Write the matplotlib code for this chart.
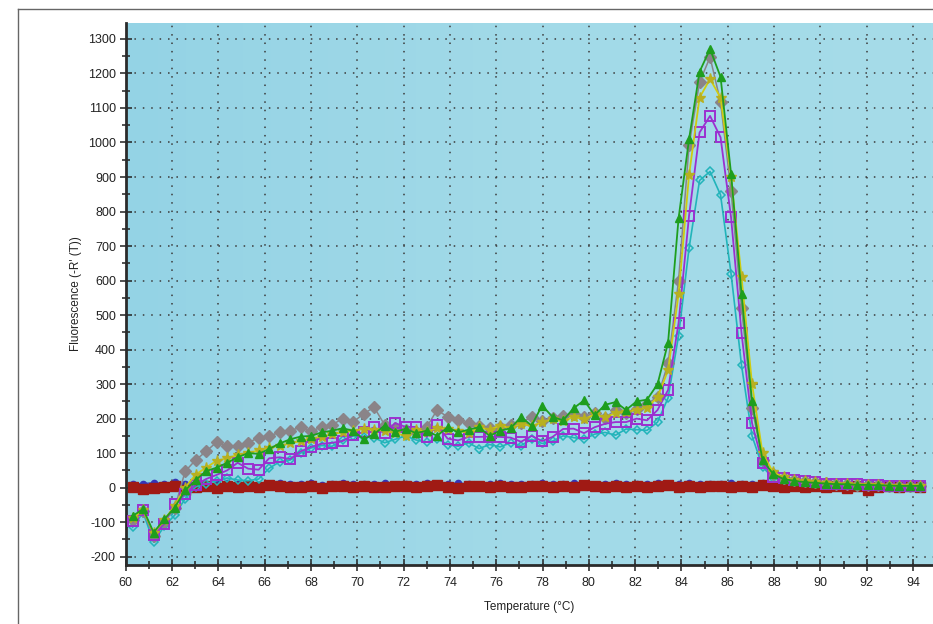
import matplotlib

matplotlib.use("Agg")
import matplotlib.pyplot as plt
import numpy as np
from matplotlib.lines import Line2D
from matplotlib.ticker import MultipleLocator

# melt curve sampling grid (deg C), one reading per step
temps = np.linspace(60.3, 94.3, 76)

# positive samples, -R'(T)
purple = [-98, -64, -136, -105, -47, -18, 8, 25, 37, 50,
          72, 55, 52, 85, 88, 83, 105, 118, 127, 130,
          135, 152, 161, 175, 157, 187, 176, 176, 147, 181,
          142, 137, 147, 147, 148, 147, 145, 133, 150, 135,
          147, 170, 171, 158, 175, 185, 190, 190, 200, 195,
          225, 283, 477, 788, 1029, 1077, 1015, 783, 447, 187,
          70, 32, 27, 22, 18, 15, 12, 12, 10, 10,
          8, 8, 6, 6, 5, 5]
cyan = [-115, -72, -158, -112, -80, -32, 2, 12, 20, 28,
        22, 20, 25, 56, 75, 80, 100, 115, 122, 120,
        138, 150, 148, 145, 130, 140, 150, 138, 132, 142,
        125, 120, 130, 113, 125, 118, 130, 122, 140, 128,
        135, 150, 145, 140, 155, 160, 152, 170, 168, 166,
        190, 260, 440, 694, 890, 916, 848, 620, 354, 150,
        60, 28, 22, 18, 15, 13, 12, 10, 10, 9,
        8, 7, 6, 5, 5, 5]
green = [-82, -62, -130, -92, -58, -8, 22, 48, 58, 72,
         88, 100, 98, 112, 128, 140, 148, 150, 160, 165,
         172, 165, 140, 155, 180, 162, 170, 158, 165, 150,
         175, 160, 168, 175, 150, 165, 172, 205, 180, 238,
         205, 195, 230, 253, 210, 240, 248, 225, 250, 255,
         300, 420, 780, 1010, 1205, 1271, 1190, 910, 560, 250,
         80, 40, 25, 20, 16, 14, 12, 10, 10, 8,
         8, 7, 6, 5, 5, 5]
gray = [-95, -68, -140, -100, -60, 47, 80, 105, 132, 120,
        122, 130, 145, 150, 160, 165, 175, 163, 176, 182,
        200, 190, 214, 233, 182, 172, 166, 160, 175, 225,
        205, 195, 186, 178, 172, 176, 182, 188, 205, 192,
        202, 208, 212, 206, 216, 202, 226, 215, 228, 243,
        262, 360, 600, 992, 1175, 1247, 1117, 860, 520, 230,
        80, 40, 28, 22, 18, 15, 13, 12, 10, 9,
        8, 7, 6, 6, 5, 5]
yellow = [-88, -66, -132, -95, -52, 0, 38, 58, 78, 85,
          95, 100, 108, 115, 122, 128, 135, 142, 148, 155,
          160, 165, 170, 168, 165, 158, 150, 168, 162, 172,
          170, 165, 158, 175, 168, 180, 172, 185, 178, 190,
          198, 192, 205, 198, 212, 205, 215, 220, 225, 232,
          262, 340, 560, 906, 1130, 1184, 1130, 900, 610, 300,
          100, 45, 30, 22, 18, 15, 13, 12, 10, 9,
          8, 7, 6, 6, 5, 5]

# no-template controls
neg_red = [2, -4, 0, 3, 5, -8, 2, 4, 0, 6,
           3, 5, 2, 8, 4, 1, 3, 5, 0, 6,
           4, 2, 5, 3, 1, 6, 4, 2, 5, 7,
           3, 0, 4, 6, 2, 5, 3, 1, 4, 6,
           3, 5, 2, 8, 4, 1, 5, 3, 6, 2,
           4, 7, 3, 5, 1, 4, 6, 2, 5, 3,
           8, 4, 2, 6, 3, 5, 1, 4, -2, 6,
           -8, 3, 5, 2, 4, 3]
neg_blue = [10, 12, 14, 12, 15, 10, 12, 8, 10, 13,
            11, 12, 9, 12, 14, 10, 11, 13, 9, 12,
            14, 11, 10, 12, 13, 9, 12, 11, 14, 10,
            12, 13, 11, 9, 12, 14, 10, 12, 11, 13,
            10, 12, 14, 11, 9, 12, 13, 10, 12, 11,
            14, 10, 12, 13, 11, 10, 12, 14, 11, 10,
            13, 12, 10, 11, 13, 12, 10, 11, 12, 10,
            13, 11, 10, 12, 11, 10]

plt.rcParams["font.family"] = ["Liberation Sans", "DejaVu Sans"]
plt.rcParams["axes.unicode_minus"] = False

fig = plt.figure(figsize=(9.33, 6.24), dpi=100)
ax = fig.add_axes([0.1347, 0.0946, 0.8653, 0.869])

xlim = (60, 94.86)
ylim = (-224, 1347)

# light blue plot background, a little darker on the left
grad = np.linspace(0, 1, 256).reshape(1, -1)
bg = matplotlib.colors.LinearSegmentedColormap.from_list("bg", ["#94d3e5", "#a2dae8", "#a6dce9"])
ax.imshow(grad, cmap=bg, extent=(*xlim, *ylim), aspect="auto", zorder=0)

ax.plot(temps, neg_blue, color="#3434b8", marker="o", ms=4.5, lw=1.0, zorder=2)
ax.plot(temps, neg_red, color="#a01a14", marker="s", ms=6.5, lw=1.2, zorder=2)

ax.plot(temps, cyan, color="#22b4ba", marker="D", ms=4.5, mfc="none", mew=1.1, lw=1.2, zorder=3)
ax.plot(temps, purple, color="#9b30d0", marker="s", ms=6.5, mfc="none", mew=1.4, lw=1.3, zorder=4)
ax.plot(temps, yellow, color="#cfcc10", marker="*", ms=8, mfc="#b8b020", mec="#b8b020", lw=1.3, zorder=4)
ax.plot(temps, green, color="#1e9e1e", marker="^", ms=6, lw=1.3, zorder=4)
ax.plot(temps, gray, color="#8a8488", marker="D", ms=6, lw=1.1, zorder=3)

ax.set_xlim(*xlim)
ax.set_ylim(*ylim)
ax.xaxis.set_major_locator(MultipleLocator(2))
ax.xaxis.set_minor_locator(MultipleLocator(1))
ax.yaxis.set_major_locator(MultipleLocator(100))
ax.yaxis.set_minor_locator(MultipleLocator(50))

ax.grid(True, which="major", color="#3a3a3a", linestyle=(0, (1, 4.5)), linewidth=1.1, zorder=1)
ax.set_axisbelow(True)

ax.tick_params(which="major", direction="inout", length=8, width=1.1, color="#222222",
               labelsize=9, labelcolor="#222222", pad=3)
ax.tick_params(which="minor", direction="inout", length=6, width=1.1, color="#222222")
ax.tick_params(axis="x", which="major", pad=5)

for side in ("top", "right"):
    ax.spines[side].set_visible(False)
for side in ("left", "bottom"):
    ax.spines[side].set_linewidth(2)
    ax.spines[side].set_color("#2b2b2b")

ax.set_xlabel("Temperature (°C)", fontsize=8.5, color="#222222", labelpad=8)
ax.set_ylabel("Fluorescence (-R' (T))", fontsize=8.5, color="#222222", labelpad=4)

# thin outer frame of the screenshot
fx, fy = 18 / 933, 1 - 9 / 624
fig.add_artist(Line2D([fx, fx], [0, fy], color="#666666", lw=1))
fig.add_artist(Line2D([fx, 1], [fy, fy], color="#666666", lw=1))

fig.savefig("out.png", dpi=100)
